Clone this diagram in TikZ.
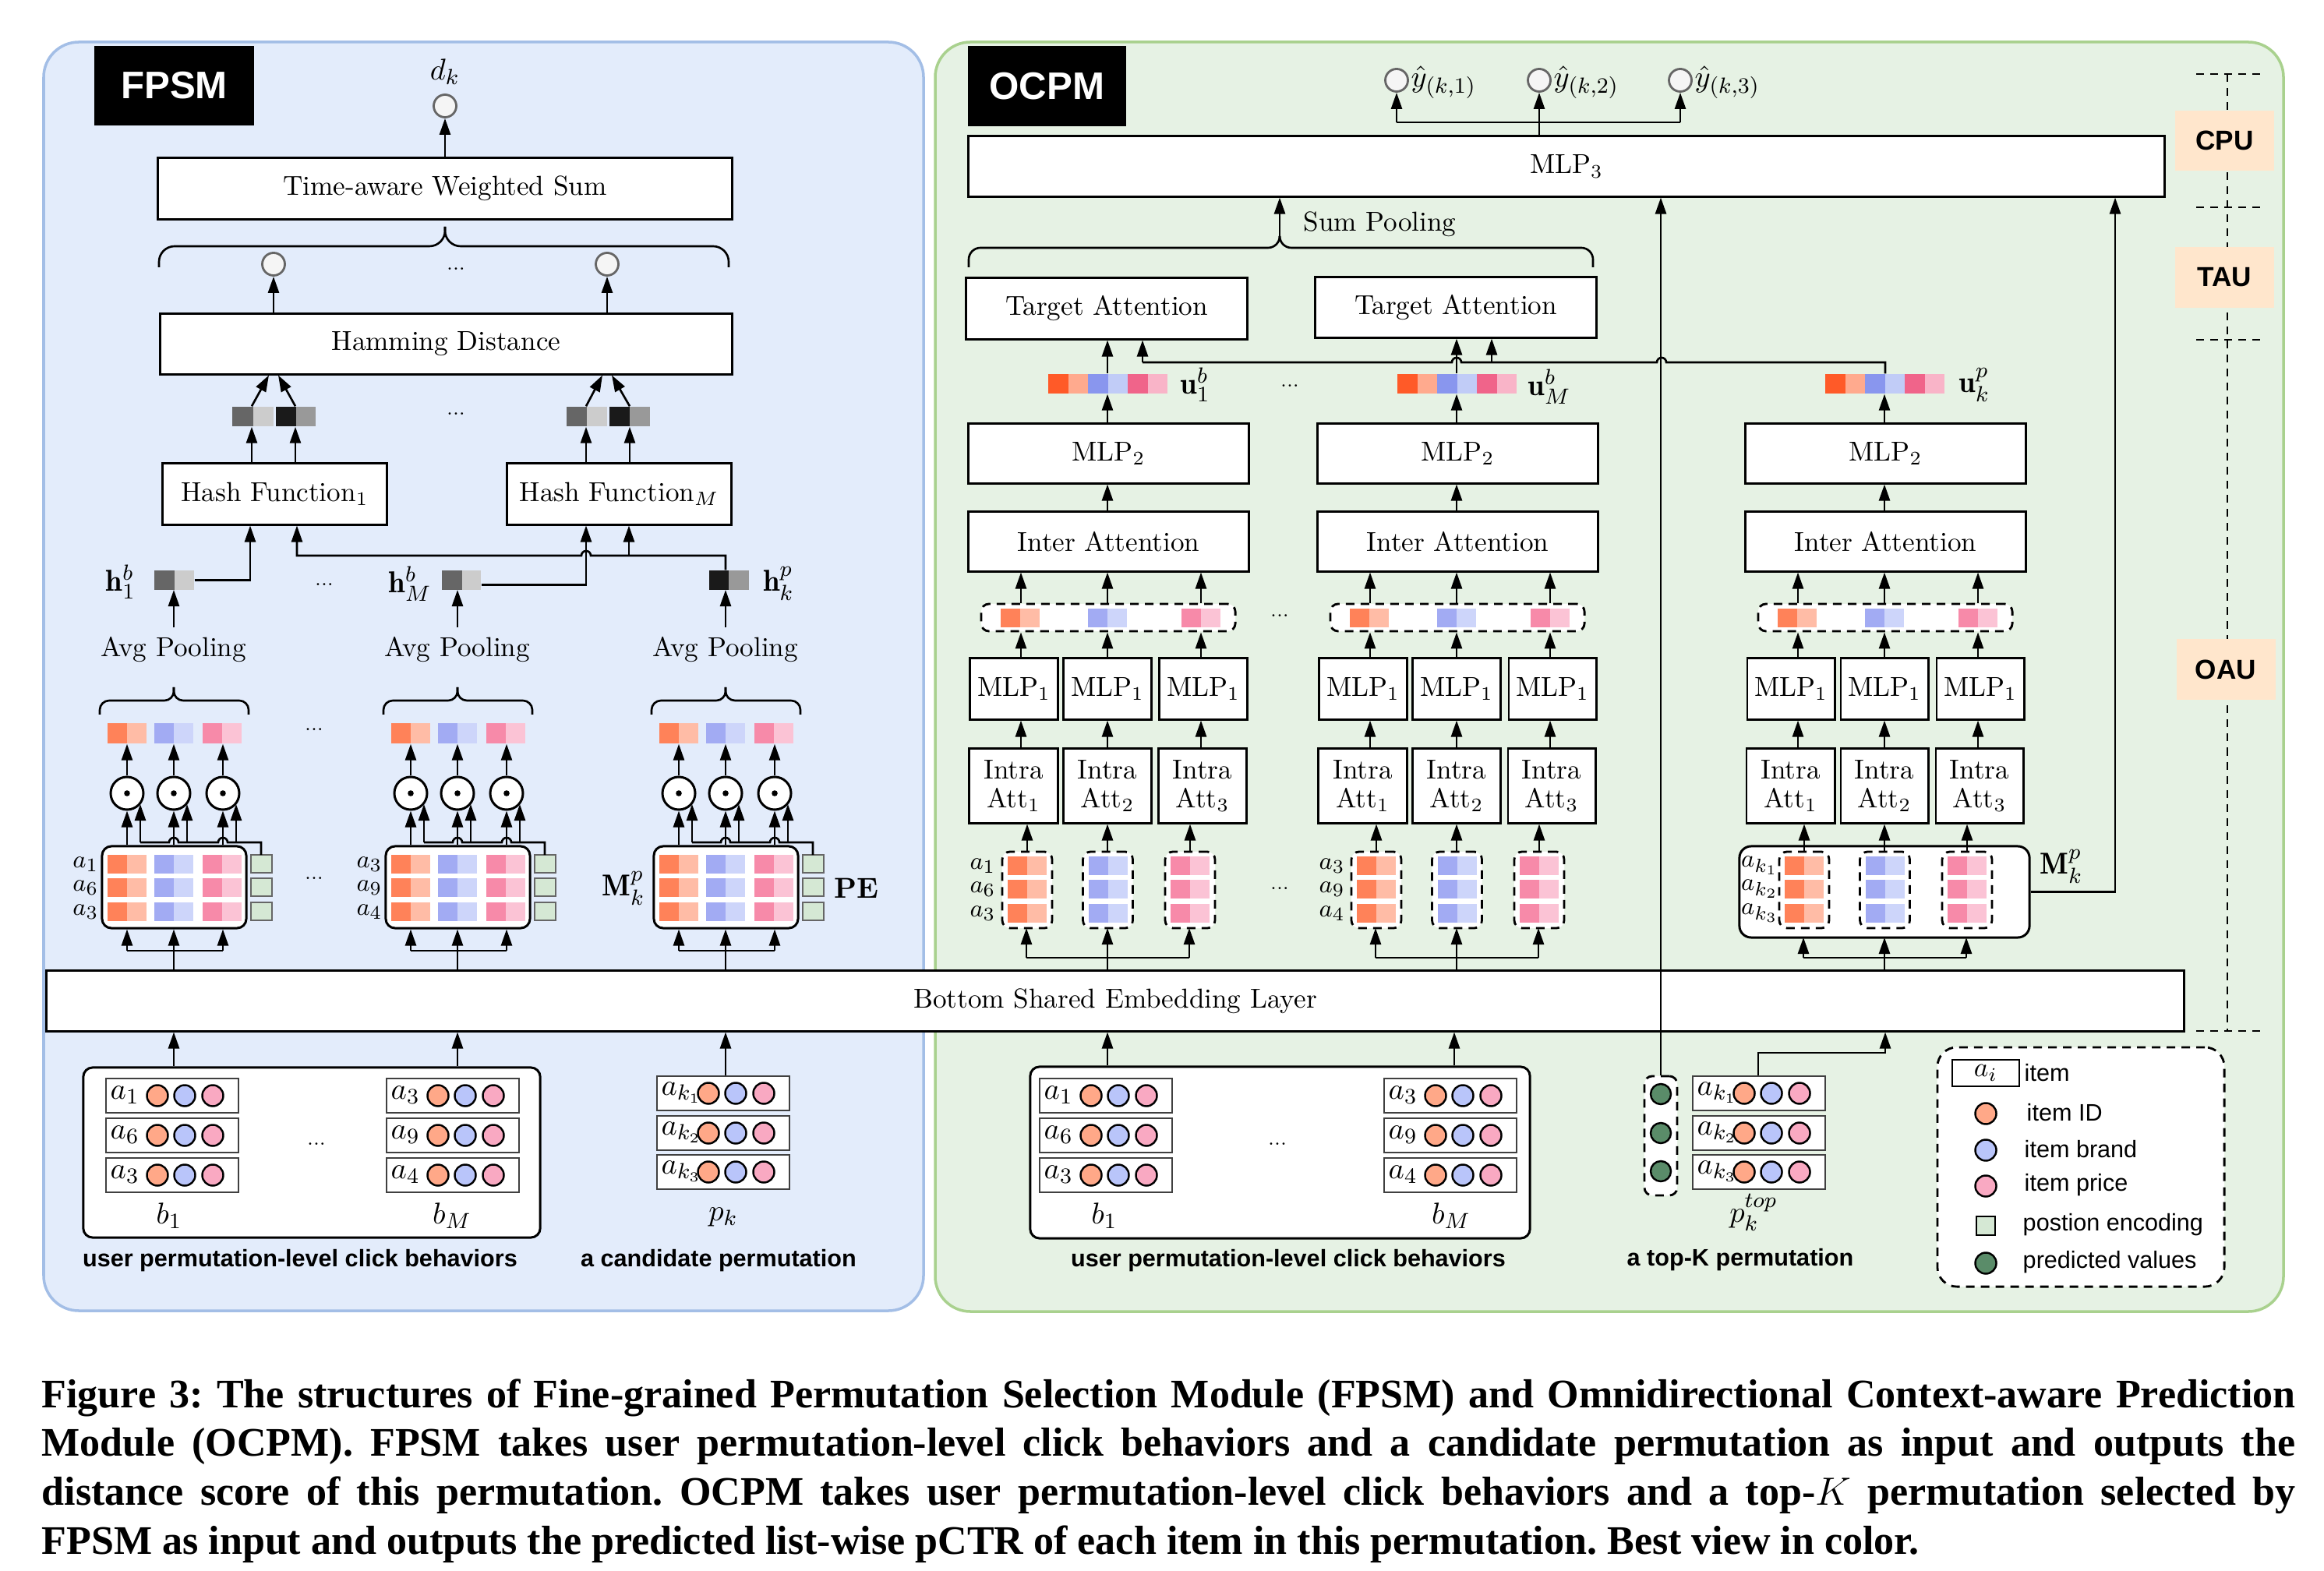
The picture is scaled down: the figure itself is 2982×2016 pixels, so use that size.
\documentclass[tikz,border=0pt]{standalone}
\usepackage{fontspec}
\newfontfamily\sansb{Liberation Sans}
\newfontfamily\capfont{Liberation Serif}
\usetikzlibrary{arrows.meta,calc}
\definecolor{fbg}{HTML}{E3ECFB}
\definecolor{fbd}{HTML}{A3BEE6}
\definecolor{obg}{HTML}{E6F2E4}
\definecolor{obd}{HTML}{A9D18E}
\definecolor{oa}{HTML}{FF8259}
\definecolor{ob}{HTML}{FFBCA6}
\definecolor{ba}{HTML}{A2ABF3}
\definecolor{bb}{HTML}{CDD5FA}
\definecolor{pa}{HTML}{F78AA9}
\definecolor{pb}{HTML}{FBC3D5}
\definecolor{ua}{HTML}{FF5A28}
\definecolor{ub}{HTML}{FFAA8E}
\definecolor{uc}{HTML}{8996EE}
\definecolor{ud}{HTML}{C1CCF7}
\definecolor{ue}{HTML}{F0648A}
\definecolor{uf}{HTML}{F9B4C8}
\definecolor{cio}{HTML}{FFA888}
\definecolor{cib}{HTML}{B9C5FA}
\definecolor{cip}{HTML}{F9A9C2}
\definecolor{pe}{HTML}{D5E8D4}
\definecolor{predg}{HTML}{5A8C69}
\definecolor{cpubg}{HTML}{FFE6CC}
\definecolor{gsix}{HTML}{666666}
\definecolor{gcc}{HTML}{CCCCCC}
\definecolor{gdark}{HTML}{1A1A1A}
\definecolor{gnine}{HTML}{999999}
\tikzset{
 bxs/.style={draw=black,line width=0.85pt,fill=white,inner sep=0pt,align=center},
 arr/.style={-{Triangle[length=2.1mm,width=1.4mm]},line width=0.75pt},
 ln/.style={line width=0.75pt},
 dsh/.style={draw=black,line width=0.8pt,dash pattern=on 1.1mm off 0.8mm,rounded corners=1mm,fill=white,inner sep=0pt},
 odot/.style={circle,draw=black,line width=0.85pt,fill=white,minimum size=4.2mm,inner sep=0pt,
   path picture={\fill[black] (path picture bounding box.center) circle[radius=0.38mm];}},
 outc/.style={circle,draw=black!60,line width=0.8pt,fill=black!4,minimum size=2.9mm,inner sep=0pt},
 dots/.style={font=\fontsize{7}{8}\selectfont,inner sep=0pt},
 btxt/.style={font=\sansb\bfseries\fontsize{8.7}{10}\selectfont,inner sep=0pt},
 lgtxt/.style={anchor=west,font=\sansb\fontsize{8.7}{10}\selectfont,inner sep=0pt},
 mlab/.style={font=\fontsize{11}{12}\selectfont,inner sep=0pt},
 slab/.style={font=\fontsize{9.5}{10}\selectfont,inner sep=0pt},
 hw/.style={fill=cpubg,minimum width=12.7mm,minimum height=7.7mm,inner sep=0pt,font=\sansb\bfseries\fontsize{10}{12}\selectfont},
}
\newcommand{\Intraf}{\fontsize{10}{10.5}\selectfont}
\newcommand{\Bx}[7][]{\node[bxs,#1,minimum width={(#5-#3)*0.1mm},minimum height={(#6-#4)*0.1mm}] (#2) at ({(#3+#5)/2},{(#4+#6)/2}) {#7};}
\newcommand{\Psq}[5]{\fill[#4] (#1,#2) rectangle ++(25,#3);\fill[#5] ({#1+25},#2) rectangle ++(25,#3);}
\newcommand{\Vup}[3]{\draw[arr] (#3,0 |- #1.north) -- (#3,0 |- #2.south);}
\newcommand{\Irow}[4]{%
\node[draw=black!75,line width=0.6pt,fill=white,minimum width=17mm,minimum height=4.4mm,inner sep=0pt] (#1) at ({#2+85},{#3+22}) {};
\node[anchor=west,mlab] (#1l) at ({#2+5},{#3+21}) {$#4$};
\draw[line width=0.7pt,fill=cio] ({#2+66},{#3+22}) circle[radius=1.35mm];
\draw[line width=0.7pt,fill=cib] ({#2+101},{#3+22}) circle[radius=1.35mm];
\draw[line width=0.7pt,fill=cip] ({#2+137},{#3+22}) circle[radius=1.35mm];}
\newcommand{\Uvec}[2]{%
\node[inner sep=0pt,minimum width=15.3mm,minimum height=2.5mm] (#1) at ({#2+76.5},492.5) {};
\fill[ua] (#2,480) rectangle ++(25.5,25);\fill[ub] ({#2+25.5},480) rectangle ++(25.5,25);
\fill[uc] ({#2+51},480) rectangle ++(25.5,25);\fill[ud] ({#2+76.5},480) rectangle ++(25.5,25);
\fill[ue] ({#2+102},480) rectangle ++(25.5,25);\fill[uf] ({#2+127.5},480) rectangle ++(25.5,25);}
% FPSM group: shift, suffix, three labels
\newcommand{\Fgrp}[5]{%
\begin{scope}[shift={(#1,0)}]
\node[draw=black,line width=0.85pt,rounded corners=1.2mm,fill=white,minimum width=18.5mm,minimum height=10.5mm,inner sep=0pt] (mat#2) at (223.5,1138.5) {};
\foreach \yy in {1097,1127,1158}{\Psq{138}{\yy}{24}{oa}{ob}\Psq{198}{\yy}{24}{ba}{bb}\Psq{260}{\yy}{24}{pa}{pb}
 \draw[fill=pe,draw=black!60,line width=0.6pt] (322,\yy) rectangle ++(27,23);}
\node[slab] (la#2) at (110,1109) {$#3$};
\node[slab] (lb#2) at (110,1139) {$#4$};
\node[slab] (lc#2) at (110,1170) {$#5$};
\draw[ln] (223,0 |- emb.north) -- (223,1220);
\draw[ln] (163,1220) -- (286,1220);
\draw[arr] (163,1220) -- (163,0 |- mat#2.south);
\draw[arr] (223,1220) -- (223,0 |- mat#2.south);
\draw[arr] (286,1220) -- (286,0 |- mat#2.south);
\node[odot] (oda#2) at (163,1018) {};
\node[odot] (odb#2) at (223,1018) {};
\node[odot] (odc#2) at (286,1018) {};
\draw[arr] (163,0 |- mat#2.north) -- (oda#2);
\draw[arr] (223,0 |- mat#2.north) -- (odb#2);
\draw[arr] (286,0 |- mat#2.north) -- (odc#2);
\draw[ln] (335,1097) -- (335,1081) -- (292,1081) arc[start angle=0,end angle=180,radius=0.6mm] -- (229,1081) arc[start angle=0,end angle=180,radius=0.6mm] -- (180,1081);
\draw[arr] (180,1081) -- (180,1032);
\draw[arr] (240,1081) -- (240,1032);
\draw[arr] (303,1081) -- (303,1032);
\node[inner sep=0pt,minimum width=17.3mm,minimum height=2.6mm] (sq#2) at (224,941) {};
\Psq{138}{928}{26}{oa}{ob}\Psq{198}{928}{26}{ba}{bb}\Psq{260}{928}{26}{pa}{pb}
\draw[arr] (oda#2) -- (163,0 |- sq#2.south);
\draw[arr] (odb#2) -- (223,0 |- sq#2.south);
\draw[arr] (odc#2) -- (286,0 |- sq#2.south);
\draw[ln,rounded corners=1.2mm] (128,917) -- (128,899) -- (223,899) -- (223,882);
\draw[ln,rounded corners=1.2mm] (319,917) -- (319,899) -- (223,899) -- (223,882);
\node (avg#2) at (223,834) {Avg Pooling};
\draw[arr] (avg#2.north) -- (223,757);
\end{scope}}
% OCPM group: shift, suffix, three labels, fork target y
\newcommand{\Ogrp}[6]{%
\begin{scope}[shift={(#1,0)}]
\Bx{mlptwo#2}{1243}{544}{1602}{620}{MLP$_2$}
\Bx{inter#2}{1243}{657}{1602}{733}{Inter Attention}
\node[dsh,minimum width=32.6mm,minimum height=3.5mm] (row#2) at (1422,792.5) {};
\Psq{1284}{781}{24}{oa}{ob}\Psq{1396}{781}{24}{ba}{bb}\Psq{1516}{781}{24}{pa}{pb}
\Bx{ma#2}{1245}{845}{1357}{923}{MLP$_1$}
\Bx{mb#2}{1365}{845}{1477}{923}{MLP$_1$}
\Bx{mc#2}{1488}{845}{1600}{923}{MLP$_1$}
\Bx[font=\Intraf]{ia#2}{1244}{961}{1357}{1056}{Intra\\Att$_1$}
\Bx[font=\Intraf]{ib#2}{1365}{961}{1477}{1056}{Intra\\Att$_2$}
\Bx[font=\Intraf]{ic#2}{1487}{961}{1599}{1056}{Intra\\Att$_3$}
\node[dsh,minimum width=6.4mm,minimum height=9.8mm] (ca#2) at (1318,1142) {};
\node[dsh,minimum width=6.4mm,minimum height=9.8mm] (cb#2) at (1421.5,1142) {};
\node[dsh,minimum width=6.4mm,minimum height=9.8mm] (cc#2) at (1527,1142) {};
\foreach \yy in {1099,1129,1160}{\Psq{1293}{\yy}{24}{oa}{ob}\Psq{1396.5}{\yy}{24}{ba}{bb}\Psq{1502}{\yy}{24}{pa}{pb}}
\node[slab] (la#2) at (1261,1111) {$#3$};
\node[slab] (lb#2) at (1261,1141) {$#4$};
\node[slab] (lc#2) at (1261,1172) {$#5$};
\Vup{ca#2}{ia#2}{1318}\Vup{cb#2}{ib#2}{1421}\Vup{cc#2}{ic#2}{1527}
\Vup{ia#2}{ma#2}{1310}\Vup{ib#2}{mb#2}{1421}\Vup{ic#2}{mc#2}{1541}
\Vup{ma#2}{row#2}{1310}\Vup{mb#2}{row#2}{1421}\Vup{mc#2}{row#2}{1541}
\Vup{row#2}{inter#2}{1310}\Vup{row#2}{inter#2}{1421}\Vup{row#2}{inter#2}{1541}
\Vup{inter#2}{mlptwo#2}{1421}
\Vup{mlptwo#2}{u#2}{1421}
\draw[ln] (1421,0 |- emb.north) -- (1421,1229);
\draw[ln] (1317,1229) -- (1526,1229);
\draw[arr] (1317,1229) -- (1317,#6);
\draw[arr] (1421,1229) -- (1421,#6);
\draw[arr] (1526,1229) -- (1526,#6);
\end{scope}}
\begin{document}
\begin{tikzpicture}[x=0.01cm,y=-0.01cm]
\useasboundingbox (0,0) rectangle (2982,2016);
% panels
\draw[fill=fbg,draw=fbd,line width=1pt,rounded corners=4.5mm] (56,54) rectangle (1185,1682);
\draw[fill=obg,draw=obd,line width=1pt,rounded corners=4.5mm] (1200,54) rectangle (2930,1683);
\node[fill=black,text=white,font=\sansb\bfseries\fontsize{14}{16}\selectfont,minimum width=20.5mm,minimum height=10.2mm,inner sep=0pt] (fpsmlbl) at (223.5,110) {FPSM};
\node[fill=black,text=white,font=\sansb\bfseries\fontsize{14}{16}\selectfont,minimum width=20.3mm,minimum height=10.3mm,inner sep=0pt] (ocpmlbl) at (1343.5,110.5) {OCPM};
% embedding layer
\Bx{emb}{60}{1246}{2802}{1323}{Bottom Shared Embedding Layer}
% ================= FPSM =================
\Bx{tws}{203}{203}{939}{281}{Time-aware Weighted Sum}
\node[outc] (dk) at (571,136) {};
\node[mlab] (dkl) at (571,92) {$d_k$};
\draw[arr] (tws.north -| dk) -- (dk);
\draw[ln,rounded corners=2mm] (204,343) -- (204,316) -- (571,316) -- (571,291);
\draw[ln,rounded corners=2mm] (935,343) -- (935,316) -- (571,316) -- (571,291);
\node[outc] (hda) at (351,339) {};
\node[outc] (hdb) at (779,339) {};
\node[dots] (d1) at (585,345) {...};
\Bx{ham}{206}{403}{939}{480}{Hamming Distance}
\draw[arr] (351,0 |- ham.north) -- (hda);
\draw[arr] (779,0 |- ham.north) -- (hdb);
% hash codes
\node[inner sep=0pt,minimum width=10.7mm,minimum height=2.5mm] (hq1) at (351.5,534.5) {};
\fill[gsix] (298,522) rectangle (325,547);\fill[gcc] (325,522) rectangle (351,547);
\fill[gdark] (354,522) rectangle (380,547);\fill[gnine] (380,522) rectangle (405,547);
\node[inner sep=0pt,minimum width=10.7mm,minimum height=2.5mm] (hq2) at (780.5,534.5) {};
\fill[gsix] (727,522) rectangle (753,547);\fill[gcc] (753,522) rectangle (779,547);
\fill[gdark] (782,522) rectangle (808,547);\fill[gnine] (808,522) rectangle (834,547);
\node[dots] (d2) at (585,531) {...};
\draw[arr] (323,0 |- hq1.north) -- (345,0 |- ham.south);
\draw[arr] (379,0 |- hq1.north) -- (357,0 |- ham.south);
\draw[arr] (752,0 |- hq2.north) -- (773,0 |- ham.south);
\draw[arr] (808,0 |- hq2.north) -- (785,0 |- ham.south);
\Bx{hf1}{209}{595}{496}{673}{Hash Function$_1$}
\Bx{hfm}{651}{595}{938}{673}{Hash Function$_M$}
\Vup{hf1}{hq1}{323}\Vup{hf1}{hq1}{379}
\Vup{hfm}{hq2}{752}\Vup{hfm}{hq2}{808}
% h vectors
\node[inner sep=0pt,minimum width=5.1mm,minimum height=2.5mm] (hb1) at (223.5,744.5) {};
\fill[gsix] (198,732) rectangle (224,757);\fill[gcc] (224,732) rectangle (249,757);
\node[inner sep=0pt,minimum width=5mm,minimum height=2.5mm] (hbm) at (592,744.5) {};
\fill[gsix] (567,732) rectangle (593,757);\fill[gcc] (593,732) rectangle (617,757);
\node[inner sep=0pt,minimum width=5.1mm,minimum height=2.5mm] (hkp) at (935.5,744.5) {};
\fill[gdark] (910,732) rectangle (935,757);\fill[gnine] (935,732) rectangle (961,757);
\node[mlab] (hb1l) at (155,747) {$\mathbf{h}_1^b$};
\node[mlab] (hbml) at (526,749) {$\mathbf{h}_M^b$};
\node[mlab] (hkpl) at (999,749) {$\mathbf{h}_k^p$};
\node[dots] (d3) at (416,750) {...};
\draw[arr] (hb1.east) -- (321,0 |- hb1.east) -- (321,0 |- hf1.south);
\draw[arr] ([yshift=-0.6mm]hbm.east) -| (752,0 |- hfm.south);
\draw[arr] (931,0 |- hkp.north) -- (931,713) -- (758,713) arc[start angle=0,end angle=180,radius=0.6mm] -- (381,713) -- (381,0 |- hf1.south);
\draw[arr] (807,713) -- (807,0 |- hfm.south);
% FPSM groups
\Fgrp{0}{A}{a_1}{a_6}{a_3}
\Fgrp{364}{B}{a_3}{a_9}{a_4}
\Fgrp{708}{C}{}{}{}
\node[mlab] (mkpf) at (800,1140) {$\mathbf{M}_k^p$};
\node[font=\bfseries\fontsize{10.5}{12}\selectfont,inner sep=0pt] (pel) at (1099,1140) {PE};
\node[dots] (d4) at (403,936) {...};
\node[dots] (d5) at (403,1127) {...};
% FPSM inputs
\node[draw=black,line width=0.85pt,rounded corners=1.2mm,fill=white,minimum width=58.6mm,minimum height=21.8mm,inner sep=0pt] (beh1) at (400,1479) {};
\Irow{fa1}{136}{1384}{a_1}\Irow{fa2}{136}{1435}{a_6}\Irow{fa3}{136}{1486}{a_3}
\Irow{fb1}{496}{1384}{a_3}\Irow{fb2}{496}{1435}{a_9}\Irow{fb3}{496}{1486}{a_4}
\node[mlab] (fb1l) at (217,1560) {$b_1$};
\node[mlab] (fbml) at (580,1560) {$b_M$};
\node[dots] (d6) at (406,1468) {...};
\Irow{ck1}{843}{1381}{a_{k_1}}\Irow{ck2}{843}{1432}{a_{k_2}}\Irow{ck3}{843}{1482}{a_{k_3}}
\node[mlab] (pkl) at (928,1562) {$p_k$};
\draw[arr] (223,0 |- beh1.north) -- (223,0 |- emb.south);
\draw[arr] (587,0 |- beh1.north) -- (587,0 |- emb.south);
\draw[arr] (931,0 |- ck1.north) -- (931,0 |- emb.south);
\node[btxt] (t1) at (385,1618) {user permutation-level click behaviors};
\node[btxt] (t2) at (922,1618) {a candidate permutation};
% ================= OCPM =================
\Bx{mlp3}{1243}{175}{2777}{252}{MLP$_3$}
\node[outc] (y1) at (1792,103) {};
\node[outc] (y2) at (1975,103) {};
\node[outc] (y3) at (2156,103) {};
\node[anchor=west,mlab] (y1l) at (1810,106) {$\hat{y}_{(k,1)}$};
\node[anchor=west,mlab] (y2l) at (1993,106) {$\hat{y}_{(k,2)}$};
\node[anchor=west,mlab] (y3l) at (2174,106) {$\hat{y}_{(k,3)}$};
\draw[ln] (1975,0 |- mlp3.north) -- (1975,157);
\draw[ln] (1792,157) -- (2156,157);
\draw[arr] (1792,157) -- (y1);
\draw[arr] (1975,157) -- (y2);
\draw[arr] (2156,157) -- (y3);
\draw[ln,rounded corners=1.5mm] (1243,343) -- (1243,318) -- (1642,318) -- (1642,306);
\draw[ln,rounded corners=1.5mm] (2044,343) -- (2044,318) -- (1642,318) -- (1642,306);
\draw[arr] (1642,306) -- (1642,0 |- mlp3.south);
\node[anchor=west] (spl) at (1660,288) {Sum Pooling};
\Bx{ta1}{1240}{357}{1600}{435}{Target Attention}
\Bx{ta2}{1688}{356}{2048}{433}{Target Attention}
\Uvec{uA}{1345}\Uvec{uB}{1793}\Uvec{uC}{2342}
\node[anchor=west,mlab] (uAl) at (1514,494) {$\mathbf{u}_1^b$};
\node[anchor=west,mlab] (uBl) at (1960,496) {$\mathbf{u}_M^b$};
\node[anchor=west,mlab] (uCl) at (2513,494) {$\mathbf{u}_k^p$};
\node[dots] (d7) at (1655,495) {...};
\Vup{uA}{ta1}{1421}
\Vup{uB}{ta2}{1869}
% p_k matrix box
\node[draw=black,line width=0.85pt,rounded corners=1.5mm,fill=white,minimum width=37.2mm,minimum height=11.7mm,inner sep=0pt] (mbox) at (2418,1144.5) {};
\node[mlab] (mkpo) at (2645,1112) {$\mathbf{M}_k^p$};
\Ogrp{0}{A}{a_1}{a_6}{a_3}{1191}
\Ogrp{448}{B}{a_3}{a_9}{a_4}{1191}
\Ogrp{997}{C}{a_{k_1}}{a_{k_2}}{a_{k_3}}{1203}
\node[dots] (d8) at (1642,790) {...};
\node[dots] (d9) at (1642,1140) {...};
% long line from u_k^p to target attentions
\draw[ln] (2419,0 |- uC.north) -- (2419,465) -- (2138,465) arc[start angle=0,end angle=180,radius=0.6mm] -- (1875,465) arc[start angle=0,end angle=180,radius=0.6mm] -- (1466,465);
\draw[arr] (1466,465) -- (1466,0 |- ta1.south);
\draw[arr] (1914,465) -- (1914,0 |- ta2.south);
\draw[arr] (mbox.east) -- (2714,0 |- mbox.east) -- (2714,0 |- mlp3.south);
% OCPM inputs
\node[draw=black,line width=0.85pt,rounded corners=1.2mm,fill=white,minimum width=64.1mm,minimum height=22mm,inner sep=0pt] (beh2) at (1642.5,1479) {};
\Irow{oa1}{1334}{1384}{a_1}\Irow{oa2}{1334}{1435}{a_6}\Irow{oa3}{1334}{1486}{a_3}
\Irow{ob1}{1776}{1384}{a_3}\Irow{ob2}{1776}{1435}{a_9}\Irow{ob3}{1776}{1486}{a_4}
\node[mlab] (ob1l) at (1417,1560) {$b_1$};
\node[mlab] (obml) at (1862,1560) {$b_M$};
\node[dots] (d10) at (1639,1468) {...};
\draw[arr] (1421,0 |- beh2.north) -- (1421,0 |- emb.south);
\draw[arr] (1866,0 |- beh2.north) -- (1866,0 |- emb.south);
\node[btxt] (t3) at (1653,1618) {user permutation-level click behaviors};
% top-K permutation
\node[dsh,minimum width=4.2mm,minimum height=15.3mm] (pred) at (2131,1457.5) {};
\draw[line width=0.7pt,fill=predg] (2131,1404) circle[radius=1.3mm];
\draw[line width=0.7pt,fill=predg] (2131,1454) circle[radius=1.3mm];
\draw[line width=0.7pt,fill=predg] (2131,1503) circle[radius=1.3mm];
\Irow{tk1}{2172}{1381}{a_{k_1}}\Irow{tk2}{2172}{1432}{a_{k_2}}\Irow{tk3}{2172}{1482}{a_{k_3}}
\node[mlab] (ptl) at (2250,1556) {$p_k^{top}$};
\draw[arr] (2256,0 |- tk1.north) -- (2256,1351) -- (2419,1351) -- (2419,0 |- emb.south);
\draw[arr] (2131,0 |- pred.north) -- (2131,0 |- mlp3.south);
\node[btxt] (t4) at (2233,1617) {a top-K permutation};
% legend
\node[dsh,rounded corners=2.5mm,minimum width=36.8mm,minimum height=30.7mm] (leg) at (2670,1497.5) {};
\node[draw=black,line width=0.8pt,fill=white,minimum width=8.6mm,minimum height=3.4mm,inner sep=0pt] (lgi) at (2548,1377) {$a_i$};
\node[lgtxt] (lg1) at (2597,1377) {item};
\draw[line width=0.7pt,fill=cio] (2548,1429) circle[radius=1.35mm];
\node[lgtxt] (lg2) at (2600,1428) {item ID};
\draw[line width=0.7pt,fill=cib] (2548,1476) circle[radius=1.35mm];
\node[lgtxt] (lg3) at (2597,1475) {item brand};
\draw[line width=0.7pt,fill=cip] (2548,1522) circle[radius=1.35mm];
\node[lgtxt] (lg4) at (2597,1521) {item price};
\draw[line width=0.7pt,fill=pe] (2536,1561) rectangle (2560,1585);
\node[lgtxt] (lg5) at (2595,1572) {postion encoding};
\draw[line width=0.7pt,fill=predg] (2548,1621) circle[radius=1.35mm];
\node[lgtxt] (lg6) at (2595,1620) {predicted values};
% hardware column
\draw[line width=0.8pt,dash pattern=on 1mm off 0.8mm] (2858,95) -- (2858,1323);
\foreach \yy in {95,266,436,1323}{\draw[line width=0.8pt,dash pattern=on 1mm off 0.8mm] (2818,\yy) -- (2903,\yy);}
\node[hw] (cpu) at (2854.5,180.5) {CPU};
\node[hw] (tau) at (2854.5,356) {TAU};
\node[hw] (oau) at (2856,859) {OAU};
% caption
\node[anchor=base west,inner sep=0pt] (cap) at (53,1806) {\parbox[t]{289mm}{\frenchspacing\capfont\bfseries\fontsize{14.8}{17.84}\selectfont Figure 3: The structures of Fine-grained Permutation Selection Module (FPSM) and Omnidirectional Context-aware Prediction\linebreak Module (OCPM). FPSM takes user permutation-level click behaviors and a candidate permutation as input and outputs the\linebreak distance score of this permutation. OCPM takes user permutation-level click behaviors and a top-$K$ permutation selected by\linebreak FPSM as input and outputs the predicted list-wise pCTR of each item in this permutation. Best view in color.}};
\end{tikzpicture}
\end{document}
